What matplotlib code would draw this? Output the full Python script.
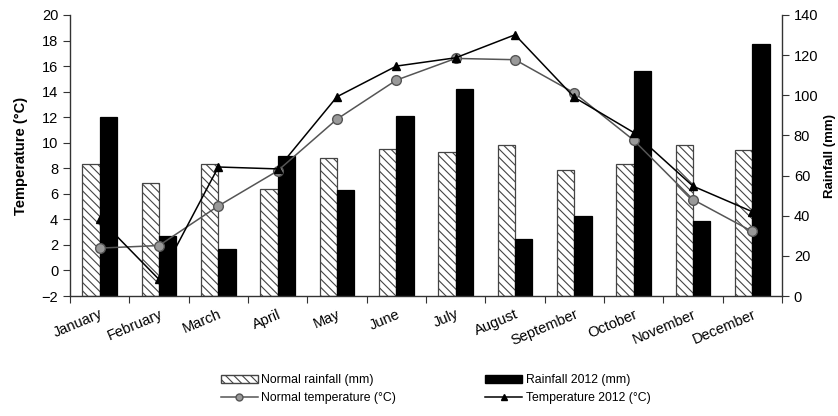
import matplotlib
matplotlib.use("Agg")
import matplotlib.pyplot as plt
import numpy as np
from matplotlib.patches import Patch
from matplotlib.lines import Line2D

plt.rcParams['font.family'] = ['Liberation Sans', 'DejaVu Sans']
plt.rcParams['hatch.linewidth'] = 0.8

months = ["January", "February", "March", "April", "May", "June", "July",
          "August", "September", "October", "November", "December"]
normal_rain = [65.7, 56.5, 65.7, 53.5, 68.8, 73.0, 71.6, 75.3, 62.8, 65.8, 75.3, 72.5]
rain_2012 = [89.2, 29.7, 23.4, 69.6, 53.0, 89.8, 102.9, 28.4, 39.8, 112.3, 37.2, 125.4]
normal_temp = [1.75, 1.95, 5.05, 7.8, 11.85, 14.9, 16.6, 16.5, 13.9, 10.2, 5.55, 3.05]
temp_2012 = [4.05, -0.7, 8.1, 7.95, 13.6, 16.0, 16.65, 18.45, 13.55, 10.8, 6.6, 4.6]

fig = plt.figure(figsize=(8.38, 4.16), dpi=100)
ax = fig.add_axes([70 / 838, 1 - 296 / 416, (782 - 70) / 838, (296 - 15) / 416])
ax2 = ax.twinx()

x = np.arange(len(months))
w = 0.29

# rainfall bars on the right axis
ax2.bar(x - w / 2, normal_rain, width=w, color='white', edgecolor='#444444',
        hatch='\\\\\\\\', linewidth=0.9, zorder=2)
ax2.bar(x + w / 2, rain_2012, width=w, color='black', edgecolor='black',
        linewidth=0.9, zorder=2)
ax2.set_ylim(0, 140)
ax2.set_yticks(np.arange(0, 141, 20))
ax2.set_ylabel("Rainfall (mm)", fontsize=9.5, fontweight='bold', labelpad=4)

# temperature lines on the left axis, drawn above the bars
ax.plot(x, normal_temp, color='#555555', lw=1.1, marker='o', ms=7,
        mfc='#999999', mec='#555555', mew=1.0, zorder=3)
ax.plot(x, temp_2012, color='black', lw=1.1, marker='^', ms=6,
        mfc='black', mec='black', zorder=4)
ax.set_zorder(ax2.get_zorder() + 1)
ax.patch.set_visible(False)
ax.set_ylim(-2, 20)
ax.set_yticks(np.arange(-2, 21, 2))
ax.set_ylabel("Temperature (°C)", fontsize=10.5, fontweight='bold', labelpad=10)
ax.set_xlim(-0.5, len(months) - 0.5)

# month boundaries as major ticks, names at group centres
ax.set_xticks(np.arange(-0.5, len(months), 1.0))
ax.set_xticklabels([])
ax.set_xticks(x, minor=True)
ax.set_xticklabels(months, minor=True, rotation=23, ha='right',
                   rotation_mode='anchor', fontsize=10.5)
ax.tick_params(axis='x', which='minor', length=0, pad=8)
ax.tick_params(axis='x', which='major', length=5, direction='out', color='#333333')
ax.tick_params(axis='y', labelsize=10.5, length=5, color='#333333')
ax2.tick_params(axis='y', labelsize=10.5, length=5, color='#333333')
for a in (ax, ax2):
    a.spines['top'].set_visible(False)
    for s in ('left', 'right', 'bottom'):
        a.spines[s].set_color('#333333')
        a.spines[s].set_linewidth(1.0)
ax.spines['right'].set_visible(False)
ax2.spines['left'].set_visible(False)
ax2.spines['bottom'].set_visible(False)

handles = [
    Patch(facecolor='white', edgecolor='#444444', hatch='\\\\\\\\', label="Normal rainfall (mm)"),
    Line2D([], [], color='#555555', lw=1.1, marker='o', ms=5, mfc='#999999',
           mec='#555555', label="Normal temperature (°C)"),
    Patch(facecolor='black', edgecolor='black', label="Rainfall 2012 (mm)"),
    Line2D([], [], color='black', lw=1.1, marker='^', ms=4, mfc='black',
           label="Temperature 2012 (°C)"),
]
fig.legend(handles=handles, loc='center', bbox_to_anchor=(0.52, 1 - 389 / 416),
           ncol=2, frameon=False, fontsize=8.8, handlelength=3.0,
           handleheight=0.6, columnspacing=7.3, labelspacing=0.5, handletextpad=0.3)

fig.savefig("out.png", dpi=100)
